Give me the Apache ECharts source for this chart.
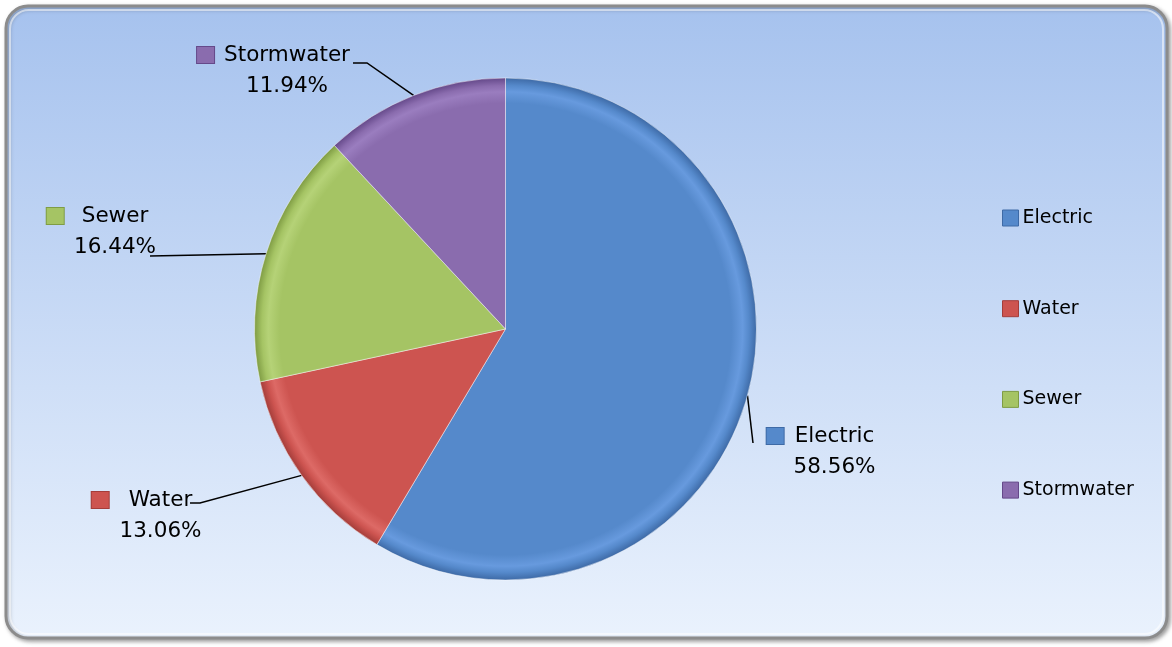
<!DOCTYPE html>
<html>
<head>
<meta charset="utf-8">
<script src="https://cdn.jsdelivr.net/npm/echarts@6/dist/echarts.min.js"></script>
<style>
  html, body { margin: 0; padding: 0; background: #ffffff; }
  #chart { width: 1172px; height: 647px; }
</style>
</head>
<body>
<div id="chart"></div>
<script>
const categories = ['Electric', 'Water', 'Sewer', 'Stormwater'];
const values = [58.56, 13.06, 16.44, 11.94];
const colors = ['#5589cb', '#cd5450', '#a5c464', '#8a6cae'];
const rimDark = ['#3e6aa6', '#a43d3a', '#7f9c44', '#65498a'];
const rimLight = ['#679ade', '#dd6a66', '#b5d277', '#9a7dbf'];

// label layout (name centre, first row centre, gap between key square and name, line bend points)
const labelSpots = [
  { cx: 834.5, cy: 436, gap: 11, bend: [[753, 443], [753, 443]] },
  { cx: 160.5, cy: 500, gap: 20, bend: [[200, 503], [190, 503]] },
  { cx: 115,   cy: 216, gap: 18, bend: [[150, 256], [150, 256]] },
  { cx: 287,   cy: 55,  gap: 10, bend: [[367, 63], [353, 63]] }
];

const CX = 505.5, CY = 329, R = 251;
const SQ = 17;
const LH = 31;

const total = values.reduce((a, b) => a + b, 0);
function edgePoint(i) {
  let before = 0;
  for (let k = 0; k < i; k++) before += values[k];
  const frac = (before + values[i] / 2) / total;
  const ang = frac * Math.PI * 2; // clockwise from top
  return [CX + R * Math.sin(ang), CY - R * Math.cos(ang)];
}

const rich = {
  name: { fontSize: 21.5, fontFamily: 'DejaVu Sans', color: '#000', lineHeight: LH },
  val:  { fontSize: 21.5, fontFamily: 'DejaVu Sans', color: '#000', lineHeight: LH }
};
categories.forEach((c, i) => {
  rich['sq' + i] = { width: SQ, height: 16, backgroundColor: colors[i], borderColor: rimDark[i], borderWidth: 1 };
  rich['g' + i] = { width: labelSpots[i].gap, height: 10 };
  rich['sp' + i] = { width: SQ + labelSpots[i].gap, height: 10 };
});

const seriesData = categories.map((name, i) => ({
  name: name,
  value: values[i],
  itemStyle: {
    color: {
      type: 'radial', x: CX, y: CY, r: R, global: true,
      colorStops: [
        { offset: 0, color: colors[i] },
        { offset: 0.9, color: colors[i] },
        { offset: 0.945, color: rimLight[i] },
        { offset: 0.97, color: colors[i] },
        { offset: 1, color: rimDark[i] }
      ]
    }
  }
}));

const chart = echarts.init(document.getElementById('chart'), null, { renderer: 'canvas' });
chart.setOption({
  backgroundColor: '#ffffff',
  animation: false,
  graphic: [
    {
      type: 'rect', z: -10, silent: true,
      shape: { x: 6, y: 6, width: 1161, height: 632, r: 22 },
      style: {
        fill: { type: 'linear', x: 0, y: 0, x2: 0, y2: 1,
          colorStops: [ { offset: 0, color: '#a6c2ee' }, { offset: 1, color: '#eaf2fd' } ] },
        stroke: '#8c8c8c', lineWidth: 3,
        shadowColor: 'rgba(0,0,0,0.35)', shadowBlur: 4, shadowOffsetX: 2, shadowOffsetY: 2
      }
    },
    {
      type: 'rect', z: -9, silent: true,
      shape: { x: 10, y: 10, width: 1153, height: 624, r: 19 },
      style: { fill: 'none', stroke: 'rgba(255,255,255,0.55)', lineWidth: 2 }
    }
  ],
  legend: {
    orient: 'vertical',
    left: 1002,
    top: 208,
    padding: 0,
    itemWidth: 16,
    itemHeight: 16,
    itemGap: 70.7,
    icon: 'rect',
    data: categories.map((c, i) => ({ name: c, itemStyle: { color: colors[i], borderColor: rimDark[i], borderWidth: 1 } })),
    textStyle: { fontSize: 19, fontFamily: 'DejaVu Sans', color: '#000', lineHeight: 20, padding: [0, 0, 0, -1] }
  },
  series: [{
    type: 'pie',
    center: [CX, CY],
    radius: [0, R],
    startAngle: 90,
    clockwise: true,
    data: seriesData,
    itemStyle: { borderColor: 'rgba(255,255,255,0.45)', borderWidth: 1 },
    emphasis: { disabled: true },
    label: {
      show: true,
      position: 'outside',
      formatter: function (p) {
        const i = p.dataIndex;
        return '{sq' + i + '|}{g' + i + '|}{name|' + p.name + '}\n{sp' + i + '|}{val|' + values[i].toFixed(2) + '%}';
      },
      rich: rich
    },
    labelLine: { show: true, lineStyle: { color: '#000', width: 1.5 } },
    labelLayout: function (params) {
      const i = params.dataIndex;
      const s = labelSpots[i];
      const e = edgePoint(i);
      return {
        x: s.cx - (SQ + s.gap) / 2,
        y: s.cy - LH / 2,
        align: 'center',
        verticalAlign: 'top',
        labelLinePoints: [e, s.bend[0], s.bend[1]]
      };
    }
  }]
});
</script>
</body>
</html>
